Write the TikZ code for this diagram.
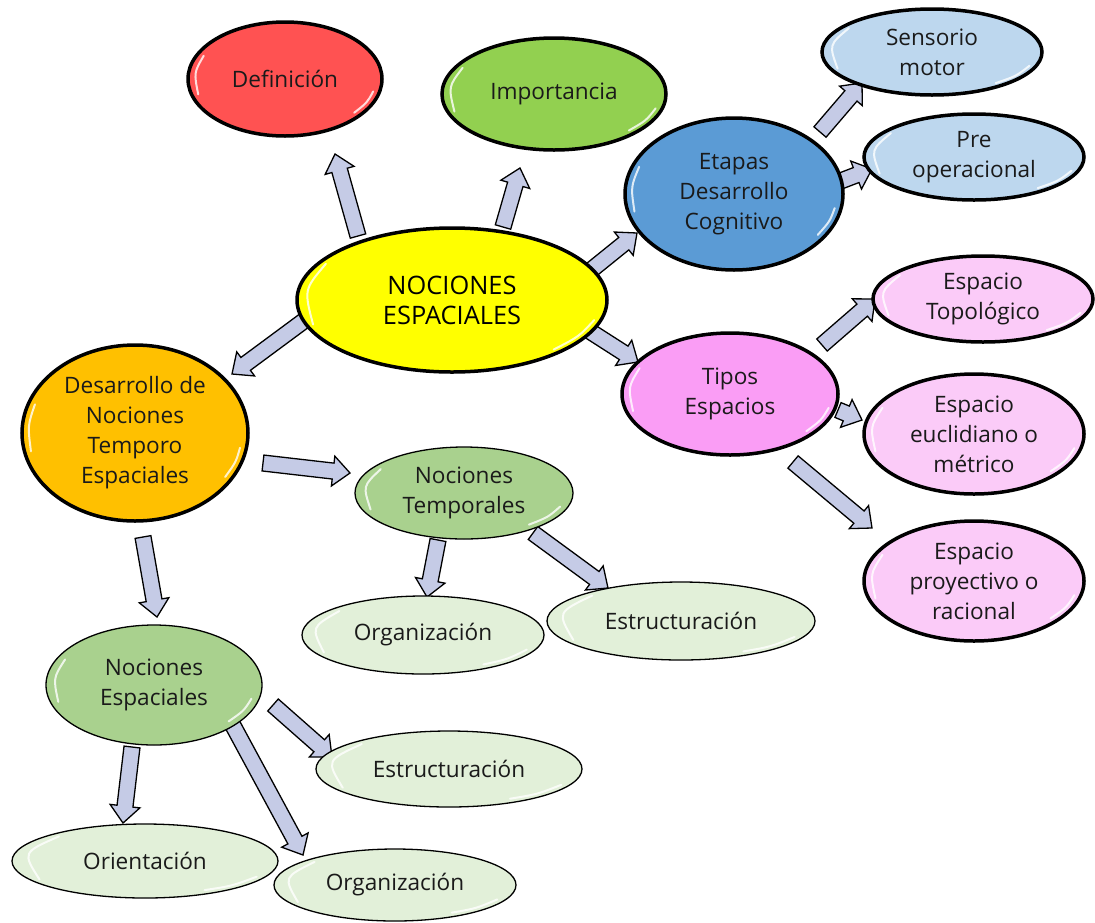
\documentclass[tikz,border=0pt]{standalone}
\usepackage{fontspec}
\setmainfont{Open Sans}
\usetikzlibrary{shapes.geometric,calc,backgrounds}
\definecolor{cred}{HTML}{FF5252}
\definecolor{cgreen}{HTML}{92D050}
\definecolor{cyellow}{HTML}{FFFF00}
\definecolor{cblue}{HTML}{5B9BD5}
\definecolor{clblue}{HTML}{BDD7EE}
\definecolor{cviolet}{HTML}{FA9DF5}
\definecolor{cpink}{HTML}{FBCBF8}
\definecolor{corange}{HTML}{FFC000}
\definecolor{cmgreen}{HTML}{A9D18E}
\definecolor{clgreen}{HTML}{E2F0D9}
\definecolor{arrowfill}{HTML}{C5CBE6}
\definecolor{txt}{HTML}{1A1A1A}
\tikzset{
  bubble/.style={ellipse, draw=black, line width=3.5pt, inner sep=0pt, align=center,
    font=\fontsize{22.6}{30}\selectfont, text=txt},
  thinbubble/.style={bubble, line width=1.3pt},
  barrowst/.style={draw=black, line width=1.3pt, fill=arrowfill, line join=miter},
  gloss/.style={white, line width=2pt, line cap=round, opacity=0.8},
}
\newcommand\barrow[2]{%
  \coordinate (bA) at (#1);
  \coordinate (bB) at (#2);
  \coordinate (bH) at ($(bB)!17pt!(bA)$);
  \draw[barrowst] ($(bA)!8pt!90:(bB)$) -- ($(bH)!8pt!90:(bB)$) -- ($(bH)!15pt!90:(bB)$)
    -- (bB) -- ($(bH)!15pt!-90:(bB)$) -- ($(bH)!8pt!-90:(bB)$) -- ($(bA)!8pt!-90:(bB)$) -- cycle;}
\begin{document}
\begin{tikzpicture}[x=1pt,y=-1pt]
\useasboundingbox (0,0) rectangle (1095,922);
% nodes
\node[bubble, fill=cyellow, minimum width=310pt, minimum height=144pt, font=\fontsize{25.4}{30}\selectfont, text=black] (ctr) at (452,300) {NOCIONES\\ESPACIALES};
\node[bubble, fill=cred, minimum width=194pt, minimum height=114pt] (def) at (285,79) {Definición};
\node[bubble, fill=cgreen, minimum width=224pt, minimum height=112pt] (imp) at (554,94) {Importancia};
\node[bubble, fill=cblue, minimum width=218pt, minimum height=152pt] (eta) at (734,194) {Etapas\\Desarrollo\\Cognitivo};
\node[bubble, fill=clblue, minimum width=220pt, minimum height=86pt] (sen) at (932,52) {Sensorio\\motor};
\node[bubble, fill=clblue, minimum width=220pt, minimum height=86pt] (pre) at (974,157) {Pre\\operacional};
\node[bubble, fill=cviolet, minimum width=216pt, minimum height=122pt] (tip) at (730,394) {Tipos\\Espacios};
\node[bubble, fill=cpink, minimum width=220pt, minimum height=86pt] (top) at (983,299) {Espacio\\Topológico};
\node[bubble, fill=cpink, minimum width=220pt, minimum height=120pt] (euc) at (974,434) {Espacio\\euclidiano o\\métrico};
\node[bubble, fill=cpink, minimum width=220pt, minimum height=120pt] (pro) at (974,581) {Espacio\\proyectivo o\\racional};
\node[bubble, fill=corange, minimum width=226pt, minimum height=176pt] (des) at (135,433) {Desarrollo de\\Nociones\\Temporo\\Espaciales};
\node[thinbubble, fill=cmgreen, minimum width=218pt, minimum height=92pt] (ntem) at (464,493) {Nociones\\Temporales};
\node[thinbubble, fill=clgreen, minimum width=242pt, minimum height=78pt] (org1) at (423,635) {Organización};
\node[thinbubble, fill=clgreen, minimum width=268pt, minimum height=78pt] (est1) at (681,621) {Estructuración};
\node[thinbubble, fill=cmgreen, minimum width=216pt, minimum height=120pt] (nesp) at (154,685) {Nociones\\Espaciales};
\node[thinbubble, fill=clgreen, minimum width=266pt, minimum height=76pt] (est2) at (449,769) {Estructuración};
\node[thinbubble, fill=clgreen, minimum width=266pt, minimum height=74pt] (ori) at (145,861) {Orientación};
\node[thinbubble, fill=clgreen, minimum width=242pt, minimum height=72pt] (org2) at (395,885) {Organización};
% glossy highlights
\foreach \n in {ctr,def,imp,eta,sen,pre,tip,top,euc,pro,des,ntem,org1,est1,nesp,est2,ori,org2}{
  \draw[gloss] ($(\n.164)!8pt!(\n.center)$) .. controls ($(\n.176)!7pt!(\n.center)$) .. ($(\n.190)!8pt!(\n.center)$);
  \draw[gloss] ($(\n.-8)!8pt!(\n.center)$) .. controls ($(\n.-16)!7pt!(\n.center)$) .. ($(\n.-26)!8pt!(\n.center)$);
}
% arrows
\begin{scope}[on background layer]
\barrow{$(ctr)+(-94,-64)$}{$(def)+(50,75)$}
\barrow{$(ctr)+(51,-73)$}{$(imp)+(-34,74)$}
\barrow{$(ctr)+(133,-25)$}{$(eta)+(-97,39)$}
\barrow{$(ctr)+(136,30)$}{$(tip)+(-92,-32)$}
\barrow{$(ctr)+(-147,20)$}{$(des)+(97,-59)$}
\barrow{$(eta)+(86,-62)$}{$(sen)+(-70,31)$}
\barrow{$(eta)+(104,-12)$}{$(pre)+(-102,12)$}
\barrow{$(tip)+(92,-49)$}{$(top)+(-108,0)$}
\barrow{$(tip)+(108,16)$}{$(euc)+(-112,-14)$}
\barrow{$(tip)+(63,68)$}{$(pro)+(-102,-53)$}
\barrow{$(des)+(128,30)$}{$(ntem)+(-114,-20)$}
\barrow{$(des)+(8,104)$}{$(nesp)+(3,-68)$}
\barrow{$(ntem)+(-26,47)$}{$(org1)+(4,-38)$}
\barrow{$(ntem)+(69,40)$}{$(est1)+(-73,-33)$}
\barrow{$(nesp)+(119,20)$}{$(est2)+(-117,-12)$}
\barrow{$(nesp)+(-22,62)$}{$(ori)+(-22,-38)$}
\barrow{$(nesp)+(76,35)$}{$(org2)+(-92,-30)$}
\end{scope}
\end{tikzpicture}
\end{document}
